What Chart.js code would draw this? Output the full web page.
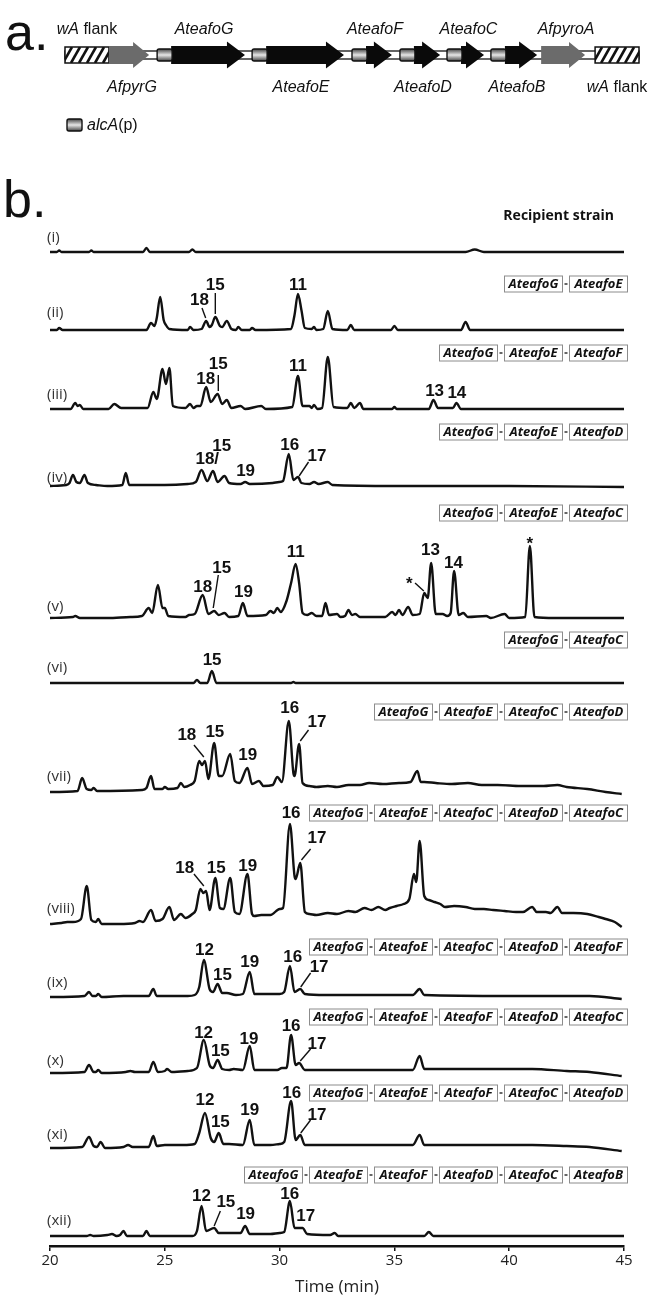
<!DOCTYPE html>
<html>
<head>
<meta charset="utf-8">
<script src="https://cdn.jsdelivr.net/npm/chart.js@4.4.0/dist/chart.umd.min.js"></script>
<style>
  body { margin: 0; background: #fff; }
  canvas { position: absolute; left: 0; }
  #geneMap { top: 0; }
  #traces { top: 150px; }
</style>
</head>
<body>
<canvas id="geneMap" width="654" height="150"></canvas>
<canvas id="traces" width="654" height="1148"></canvas>
<script>
// ---- a. cluster map (positions in kb) ----
const geneNames = ['AfpyrG', 'AteafoG', 'AteafoE', 'AteafoF', 'AteafoD', 'AteafoC', 'AteafoB', 'AfpyroA'];
const geneStart = [1.53, 3.21, 6.52, 10.0, 11.67, 13.31, 14.84, 16.59];
const geneEnd = [2.93, 6.27, 9.72, 11.39, 13.07, 14.6, 16.45, 18.12];
const geneHasPromoter = [false, true, true, true, true, true, true, false];
const geneLabelSide = ['bottom', 'top', 'bottom', 'top', 'bottom', 'top', 'bottom', 'top'];
const flankStart = [0, 18.47];
const flankEnd = [1.53, 20.0];
const flankLabelSide = ['top', 'bottom'];

// ---- b. chromatograms: [time (min), signal] ----
const timeTicks = [20, 25, 30, 35, 40, 45];
const laneNames = ['(i)', '(ii)', '(iii)', '(iv)', '(v)', '(vi)', '(vii)', '(viii)', '(ix)', '(x)', '(xi)', '(xii)'];

const traceI = [[20,0],[20.3,0],[20.4,1.5],[20.5,0],[21.7,0],[21.8,1.5],[21.9,0],[24.05,0],[24.2,4],[24.35,0],[26.05,0],[26.2,2.5],[26.35,0],[38.1,0],[38.5,2.5],[38.9,0],[45,0]];
const traceII = [[20,0],[20.3,0],[20.4,2],[20.55,0],[24.2,0],[24.4,7],[24.55,4],[24.65,12],[24.8,33],[24.95,10],[25.05,5],[25.2,1],[26.0,0],[26.1,3],[26.25,0],[26.6,1],[26.8,9],[26.95,3],[27.05,5],[27.2,13],[27.4,4],[27.5,3],[27.7,9],[27.9,1],[28.1,0],[28.2,3],[28.35,0],[28.7,0],[28.8,2],[28.95,0],[30.5,1],[30.65,15],[30.8,36],[30.95,20],[31.1,2],[31.4,1],[31.5,3],[31.6,0],[31.9,1],[32.1,19],[32.3,1],[32.95,0],[33.1,5],[33.25,0],[34.85,0],[35.0,4],[35.15,0],[37.9,0],[38.1,8],[38.3,0],[45,0]];
const traceIII = [[20,0],[20.9,0],[21.1,6],[21.2,3],[21.3,4],[21.45,0],[22.55,0],[22.8,5],[23.1,1],[24.25,1],[24.5,17],[24.65,10],[24.9,40],[25.05,25],[25.2,41],[25.35,3],[25.9,1],[26.1,5],[26.25,1],[26.4,3],[26.55,3],[26.8,22],[27.0,7],[27.3,15],[27.5,5],[27.7,9],[27.9,1],[28.3,3],[28.5,0],[29.2,3],[29.4,0],[30.55,2],[30.8,33],[31.0,3],[31.3,3],[31.4,1],[31.5,4],[31.65,0],[31.85,1],[32.1,52],[32.35,2],[32.95,1],[33.1,6],[33.25,1],[33.5,6],[33.65,0],[34.9,0],[35.0,2],[35.1,0],[36.5,0],[36.7,9],[36.9,1],[37.55,1],[37.7,6],[37.9,0],[45,0]];
const traceIV = [[20,0],[20.7,1],[20.85,3],[21.0,11],[21.15,4],[21.3,3],[21.5,11],[21.65,3],[22.0,1],[22.5,0],[23.15,1],[23.3,13],[23.45,1],[25.0,1],[26.0,2],[26.35,4],[26.6,16],[26.85,5],[27.1,15],[27.3,4],[27.6,10],[27.8,3],[28.3,2],[28.5,4],[28.7,2],[29.7,3],[29.98,4],[30.15,5],[30.4,32],[30.6,6],[30.8,9],[30.95,3],[31.3,2],[31.5,4],[31.7,2],[32.1,4],[32.3,1],[35,0],[40,0],[45,-1]];
const traceV = [[20,0],[21.0,1],[21.1,2],[21.3,0],[22.5,0],[23.5,1],[24.0,2],[24.3,10],[24.45,5],[24.7,33],[24.9,10],[25.0,10],[25.15,2],[25.9,1],[26.05,3],[26.3,4],[26.65,23],[26.9,4],[27.15,7],[27.35,3],[27.6,5],[27.8,1],[28.2,2],[28.4,15],[28.6,2],[29.4,3],[29.6,7],[29.75,5],[29.9,10],[30.05,6],[30.3,17],[30.5,35],[30.7,54],[30.85,35],[31.0,5],[31.2,3],[31.4,5],[31.6,2],[31.85,2],[32.0,15],[32.15,3],[32.5,4],[32.65,1],[32.85,2],[33.0,8],[33.15,3],[33.3,4],[33.5,1],[34.6,1],[34.9,6],[35.05,3],[35.2,8],[35.35,3],[35.6,11],[35.8,3],[36.1,4],[36.3,25],[36.45,20],[36.6,55],[36.8,4],[37.1,4],[37.3,2],[37.45,5],[37.6,47],[37.8,3],[38.0,5],[38.2,1],[39.0,2],[39.2,0],[39.8,4],[40.0,0],[40.7,1],[40.9,72],[41.1,1],[42,0],[45,0]];
const traceVI = [[20,0],[26.25,0],[26.4,3],[26.55,0],[26.85,0],[27.05,12],[27.25,0],[30.5,0],[30.6,1],[30.7,0],[45,0]];
const traceVII = [[20,-1],[21.2,0],[21.4,13],[21.6,2],[21.8,1],[21.9,3],[22.05,0],[24.0,1],[24.2,3],[24.4,15],[24.55,2],[24.9,2],[25.0,4],[25.15,2],[25.55,3],[25.7,8],[25.85,4],[26.1,6],[26.3,10],[26.5,30],[26.62,26],[26.75,30],[26.9,12],[27.15,48],[27.35,15],[27.5,15],[27.85,37],[28.05,10],[28.25,8],[28.6,23],[28.8,7],[29.1,10],[29.3,5],[29.7,6],[29.9,14],[30.1,9],[30.4,70],[30.6,18],[30.65,15],[30.85,47],[31.0,8],[31.3,5],[31.6,4],[32.1,5],[32.5,4],[33.0,6],[33.5,6],[33.9,8],[34.5,7],[35.2,8],[35.7,9],[36.0,20],[36.15,9],[36.3,9],[36.8,8],[37.5,7],[38.2,8],[38.8,6],[39.5,6],[40.5,5],[41.5,5],[42.1,6],[42.5,4],[43.4,2],[44.2,-1],[44.9,-3]];
const traceVIII = [[20,0],[20.5,1],[20.75,2],[21.0,2],[21.35,5],[21.6,38],[21.8,4],[22.0,2],[22.1,5],[22.25,0],[23.0,0],[23.7,1],[23.9,3],[24.05,2],[24.4,14],[24.6,3],[24.9,5],[25.2,17],[25.4,4],[25.7,10],[25.9,6],[26.2,10],[26.35,14],[26.55,35],[26.68,31],[26.8,33],[26.95,14],[27.2,46],[27.4,16],[27.55,15],[27.85,46],[28.05,12],[28.25,10],[28.6,50],[28.8,10],[28.9,8],[29.2,9],[29.6,9],[30.0,15],[30.15,16],[30.45,100],[30.65,48],[30.7,45],[30.9,61],[31.1,12],[31.3,10],[31.6,9],[32.1,11],[32.5,10],[33.0,13],[33.3,12],[33.7,16],[34.0,14],[34.3,17],[34.6,14],[34.8,16],[35.1,18],[35.4,20],[35.65,25],[35.85,50],[35.95,42],[36.1,83],[36.3,28],[36.5,24],[36.75,22],[37.0,20],[37.2,17],[37.6,18],[38.1,17],[38.5,15],[38.9,15],[39.3,14],[39.8,13],[40.3,12],[40.6,12],[41.0,17],[41.2,12],[41.6,12],[41.8,11],[42.1,17],[42.3,11],[42.8,11],[43.4,10],[43.9,7],[44.2,5],[44.6,2],[44.9,-3]];
const traceIX = [[20,0],[21.5,1],[21.7,5],[21.85,1],[22.0,1],[22.1,3],[22.25,0],[23.2,1],[23.3,1],[24.3,1],[24.5,8],[24.65,1],[26.0,1],[26.3,2],[26.5,10],[26.7,37],[26.95,8],[27.1,5],[27.3,13],[27.5,4],[27.7,4],[28.1,2],[28.4,3],[28.7,25],[28.9,3],[29.2,3],[29.8,3],[30.0,3],[30.2,5],[30.45,31],[30.65,5],[30.9,8],[31.1,3],[32,2],[35.8,2],[36.1,8],[36.3,2],[40,1],[43.5,1],[44.9,-2]];
const traceX = [[20,0],[21.5,1],[21.7,8],[21.9,1],[22.0,1],[22.1,3],[22.25,0],[23.3,1],[23.5,2],[23.7,1],[24.3,1],[24.5,11],[24.7,1],[25.0,2],[25.1,4],[25.3,1],[26.0,2],[26.4,5],[26.7,33],[26.95,8],[27.1,5],[27.3,13],[27.5,4],[27.8,3],[28.0,4],[28.4,3],[28.7,27],[28.9,3],[29.6,3],[29.9,3],[30.1,5],[30.3,5],[30.5,38],[30.7,8],[30.85,10],[31.1,3],[32,3],[35.8,3],[36.1,17],[36.3,4],[37,4],[39,4],[41,4],[42.5,2],[43.5,1],[44.9,-3]];
const traceXI = [[20,0],[21.4,1],[21.7,11],[21.9,2],[22.05,1],[22.2,6],[22.4,0],[23.2,1],[23.4,3],[23.6,1],[24.3,1],[24.5,12],[24.65,2],[25.0,3],[25.8,3],[26.3,4],[26.5,15],[26.75,35],[27.0,10],[27.15,6],[27.35,15],[27.55,4],[27.8,4],[28.4,3],[28.7,28],[28.9,3],[29.6,3],[30.0,4],[30.2,6],[30.5,47],[30.7,8],[30.9,13],[31.1,3],[32,3],[35.8,3],[36.1,13],[36.3,3],[38,3],[41,3],[42.5,2],[43.5,1],[44.9,-3]];
const traceXII = [[20,0],[21.6,0],[21.75,1],[21.9,0],[22.5,1],[22.7,2],[22.9,0],[23.05,1],[23.2,5],[23.35,0],[24.05,0],[24.2,5],[24.35,0],[26.2,0],[26.4,5],[26.6,30],[26.8,5],[27.15,8],[27.35,3],[27.65,3],[28.0,3],[28.3,3],[28.5,10],[28.7,2],[29.6,2],[30.0,3],[30.2,4],[30.45,35],[30.65,8],[30.8,8],[31.0,8],[31.2,2],[32.2,1],[32.4,3],[32.55,0],[36.3,0],[36.5,4],[36.7,0],[45,0]];

// peak numbers: [text, time, height]
const peakLabels = [
  [],
  [['18', 26.51, 30], ['15', 27.2, 45], ['11', 30.8, 45]],
  [['18', 26.78, 30], ['15', 27.33, 45], ['11', 30.8, 43], ['13', 36.75, 18], ['14', 37.72, 16]],
  [['18/', 26.85, 27], ['15', 27.48, 40], ['19', 28.52, 15], ['16', 30.44, 41], ['17', 31.63, 30]],
  [['18', 26.65, 31], ['15', 27.48, 50], ['19', 28.43, 26], ['11', 30.7, 66], ['*', 35.65, 38], ['13', 36.57, 68], ['14', 37.57, 55], ['*', 40.9, 78]],
  [['15', 27.06, 23]],
  [['18', 25.96, 56], ['15', 27.18, 59], ['19', 28.61, 36], ['16', 30.44, 83], ['17', 31.63, 69]],
  [['18', 25.87, 56], ['15', 27.24, 56], ['19', 28.61, 58], ['16', 30.5, 111], ['17', 31.63, 86]],
  [['12', 26.73, 47], ['15', 27.51, 22], ['19', 28.7, 35], ['16', 30.57, 40], ['17', 31.72, 30]],
  [['12', 26.69, 40], ['15', 27.42, 22], ['19', 28.67, 34], ['16', 30.5, 47], ['17', 31.63, 29]],
  [['12', 26.75, 48], ['15', 27.42, 26], ['19', 28.7, 38], ['16', 30.53, 55], ['17', 31.63, 33]],
  [['12', 26.6, 40], ['15', 27.66, 34], ['19', 28.52, 22], ['16', 30.44, 42], ['17', 31.14, 20]]
];
// leader lines: [t1, h1, t2, h2]
const peakLeaders = [
  [],
  [[26.62, 22, 26.78, 12], [27.2, 37, 27.2, 16]],
  [[27.33, 34, 27.33, 18]],
  [[31.26, 24, 30.85, 10]],
  [[27.33, 43, 27.11, 10], [35.9, 35, 36.28, 27]],
  [],
  [[26.27, 46, 26.7, 34], [31.26, 61, 30.9, 50]],
  [[26.27, 50, 26.7, 38], [31.35, 75, 30.95, 64]],
  [[31.35, 24, 30.92, 10]],
  [[31.35, 24, 30.9, 12]],
  [[31.35, 28, 30.92, 15]],
  [[27.42, 25, 27.15, 10]]
];
const laneGenes = [
  [],
  ['AteafoG', 'AteafoE'],
  ['AteafoG', 'AteafoE', 'AteafoF'],
  ['AteafoG', 'AteafoE', 'AteafoD'],
  ['AteafoG', 'AteafoE', 'AteafoC'],
  ['AteafoG', 'AteafoC'],
  ['AteafoG', 'AteafoE', 'AteafoC', 'AteafoD'],
  ['AteafoG', 'AteafoE', 'AteafoC', 'AteafoD', 'AteafoC'],
  ['AteafoG', 'AteafoE', 'AteafoC', 'AteafoD', 'AteafoF'],
  ['AteafoG', 'AteafoE', 'AteafoF', 'AteafoD', 'AteafoC'],
  ['AteafoG', 'AteafoE', 'AteafoF', 'AteafoC', 'AteafoD'],
  ['AteafoG', 'AteafoE', 'AteafoF', 'AteafoD', 'AteafoC', 'AteafoB']
];

// layout (page px)
const laneBase = [252, 330, 409, 486, 618, 683, 791, 924, 997, 1073, 1148, 1236];
const laneLabelLift = [14, 17, 14, 8, 11, 15, 14, 15, 14, 12, 13, 15];
const boxLift = [36, 46, 56, 54, 105, 43, 79, 111, 50, 56, 55, 61];
const PLOT_TOP = 160, PLOT_BOTTOM = 1246, CANVAS_TOP = 150;

function italicPart(ctx, parts, x, y, size, align) {
  // parts: [[text, italic]]
  const fonts = parts.map(p => (p[1] ? 'italic ' : '') + size + 'px "Liberation Sans"');
  let total = 0;
  parts.forEach((p, i) => { ctx.font = fonts[i]; total += ctx.measureText(p[0]).width; });
  let cx = align === 'center' ? x - total / 2 : x;
  ctx.textAlign = 'left';
  parts.forEach((p, i) => { ctx.font = fonts[i]; ctx.fillText(p[0], cx, y); cx += ctx.measureText(p[0]).width; });
}

function promoterBox(ctx, x, y, w, h) {
  const g = ctx.createLinearGradient(0, y, 0, y + h);
  g.addColorStop(0, '#444'); g.addColorStop(0.5, '#e6e6e6'); g.addColorStop(1, '#444');
  ctx.fillStyle = g;
  ctx.beginPath(); ctx.roundRect(x, y, w, h, 2); ctx.fill();
  ctx.strokeStyle = '#111'; ctx.lineWidth = 1.4; ctx.stroke();
}

function arrow(ctx, x1, x2, yc, bodyH, headH, headL, color) {
  ctx.fillStyle = color;
  ctx.beginPath();
  ctx.moveTo(x1, yc - bodyH / 2);
  ctx.lineTo(x2 - headL, yc - bodyH / 2);
  ctx.lineTo(x2 - headL, yc - headH / 2);
  ctx.lineTo(x2, yc);
  ctx.lineTo(x2 - headL, yc + headH / 2);
  ctx.lineTo(x2 - headL, yc + bodyH / 2);
  ctx.lineTo(x1, yc + bodyH / 2);
  ctx.closePath();
  ctx.fill();
}

const mapPlugin = {
  id: 'clusterMap',
  afterDraw(chart) {
    const ctx = chart.ctx, xs = chart.scales.x;
    const yc = 55;
    ctx.save();
    ctx.fillStyle = '#111';
    ctx.textBaseline = 'alphabetic';
    ctx.font = '52px "Liberation Sans"';
    ctx.fillText('a.', 5, 50);

    // backbone
    const bx1 = xs.getPixelForValue(flankStart[0]), bx2 = xs.getPixelForValue(flankEnd[1]);
    ctx.fillStyle = '#fff';
    ctx.fillRect(bx1, yc - 4, bx2 - bx1, 8);
    ctx.strokeStyle = '#111'; ctx.lineWidth = 1.3;
    ctx.strokeRect(bx1, yc - 4, bx2 - bx1, 8);

    // flanks (hatched)
    flankStart.forEach((s, i) => {
      const x1 = xs.getPixelForValue(s), x2 = xs.getPixelForValue(flankEnd[i]);
      ctx.save();
      ctx.fillStyle = '#fff';
      ctx.fillRect(x1, yc - 8, x2 - x1, 16);
      ctx.beginPath(); ctx.rect(x1, yc - 8, x2 - x1, 16); ctx.clip();
      ctx.strokeStyle = '#111'; ctx.lineWidth = 2.6;
      for (let x = x1 - 10; x < x2 + 10; x += 8) {
        ctx.beginPath(); ctx.moveTo(x, yc + 8); ctx.lineTo(x + 9, yc - 8); ctx.stroke();
      }
      ctx.restore();
      ctx.strokeStyle = '#111'; ctx.lineWidth = 1.5;
      ctx.strokeRect(x1, yc - 8, x2 - x1, 16);
    });

    // genes
    geneStart.forEach((s, i) => {
      const x1 = xs.getPixelForValue(s), x2 = xs.getPixelForValue(geneEnd[i]);
      if (geneHasPromoter[i]) {
        arrow(ctx, x1 + 14, x2, yc, 18, 27, 18, '#0a0a0a');
        promoterBox(ctx, x1, yc - 6, 15, 12);
      } else {
        arrow(ctx, x1, x2, yc, 18, 26, 16, '#6b6b6b');
      }
    });

    // labels
    ctx.fillStyle = '#111';
    ctx.textBaseline = 'middle';
    geneNames.forEach((n, i) => {
      const xm = xs.getPixelForValue((geneStart[i] + geneEnd[i]) / 2) + 3;
      italicPart(ctx, [[n, true]], xm, geneLabelSide[i] === 'top' ? 30 : 88, 16, 'center');
    });
    flankStart.forEach((s, i) => {
      const xm = xs.getPixelForValue((s + flankEnd[i]) / 2);
      italicPart(ctx, [['wA', true], [' flank', false]], xm, flankLabelSide[i] === 'top' ? 30 : 88, 16, 'center');
    });

    // promoter key
    promoterBox(ctx, 67, 119, 15, 12);
    ctx.fillStyle = '#111';
    italicPart(ctx, [['alcA', true], ['(p)', false]], 87, 126, 16, 'left');
    ctx.restore();
  }
};

new Chart(document.getElementById('geneMap'), {
  type: 'scatter',
  data: { datasets: [] },
  options: {
    responsive: false,
    animation: false,
    events: [],
    layout: { padding: { left: 65, right: 15, top: 0, bottom: 0 } },
    plugins: { legend: { display: false }, tooltip: { enabled: false } },
    scales: {
      x: { type: 'linear', min: 0, max: 20, display: false },
      y: { type: 'linear', min: -1, max: 1, display: false }
    }
  },
  plugins: [mapPlugin]
});

// ---- b. ----
const traces = [traceI, traceII, traceIII, traceIV, traceV, traceVI, traceVII, traceVIII, traceIX, traceX, traceXI, traceXII];

const scales = {
  x: {
    type: 'linear', min: 20, max: 45,
    afterBuildTicks: s => { s.ticks = timeTicks.map(v => ({ value: v })); },
    afterFit: s => { s.height = 52; },
    ticks: { color: '#222', font: { family: 'Open Sans', size: 15 }, padding: 1, maxRotation: 0 },
    grid: { display: true, drawOnChartArea: false, drawTicks: true, tickLength: 5, color: '#111', lineWidth: 1.5 },
    border: { display: true, color: '#111', width: 2.6 },
    title: { display: true, text: 'Time (min)', color: '#222', font: { family: 'Open Sans', size: 17 }, padding: { top: 0, bottom: 1 } }
  }
};
laneBase.forEach((b, i) => {
  scales['y' + i] = { type: 'linear', display: false, min: b - PLOT_BOTTOM, max: b - PLOT_TOP };
});

const annotatePlugin = {
  id: 'laneNotes',
  afterDraw(chart) {
    const ctx = chart.ctx, xs = chart.scales.x, ca = chart.chartArea;
    ctx.save();
    ctx.fillStyle = '#111';
    ctx.textBaseline = 'alphabetic';
    ctx.textAlign = 'left';
    ctx.font = '52px "Liberation Sans"';
    ctx.fillText('b.', 3, 217 - CANVAS_TOP);

    laneBase.forEach((b, i) => {
      const ys = chart.scales['y' + i];
      // lane label
      ctx.fillStyle = '#333';
      ctx.font = '15px "Open Sans"';
      ctx.textAlign = 'left';
      ctx.textBaseline = 'middle';
      ctx.fillText(laneNames[i], ca.left - 3, ys.getPixelForValue(laneLabelLift[i]));

      // peak numbers
      ctx.fillStyle = '#111';
      ctx.font = 'bold 17px "Liberation Sans"';
      ctx.textAlign = 'center';
      peakLabels[i].forEach(([txt, t, h]) => {
        ctx.fillText(txt, xs.getPixelForValue(t), ys.getPixelForValue(h) + (txt === '*' ? 4 : 0));
      });
      ctx.strokeStyle = '#111';
      ctx.lineWidth = 1.4;
      peakLeaders[i].forEach(([t1, h1, t2, h2]) => {
        ctx.beginPath();
        ctx.moveTo(xs.getPixelForValue(t1), ys.getPixelForValue(h1));
        ctx.lineTo(xs.getPixelForValue(t2), ys.getPixelForValue(h2));
        ctx.stroke();
      });

      // construct boxes, right aligned
      const yb = ys.getPixelForValue(boxLift[i]);
      if (i === 0) {
        ctx.font = 'bold 14px "Open Sans"';
        ctx.textAlign = 'right';
        ctx.fillStyle = '#111';
        ctx.fillText('Recipient strain', 614, yb);
        return;
      }
      const bw = 59, bh = 17, gap = 6;
      let xr = 628;
      const genes = laneGenes[i];
      for (let k = genes.length - 1; k >= 0; k--) {
        const x0 = xr - bw;
        ctx.fillStyle = '#fff';
        ctx.fillRect(x0, yb - bh / 2, bw, bh);
        ctx.strokeStyle = '#8c8c8c';
        ctx.lineWidth = 1;
        ctx.strokeRect(x0 + 0.5, yb - bh / 2 + 0.5, bw - 1, bh - 1);
        ctx.fillStyle = '#111';
        ctx.font = 'italic bold 13px "Open Sans"';
        ctx.textAlign = 'center';
        ctx.fillText(genes[k], x0 + bw / 2, yb + 0.5);
        if (k > 0) {
          ctx.strokeStyle = '#333';
          ctx.lineWidth = 1.5;
          ctx.beginPath();
          ctx.moveTo(x0 - gap + 1.5, yb);
          ctx.lineTo(x0 - 1.5, yb);
          ctx.stroke();
        }
        xr = x0 - gap;
      }
    });
    ctx.restore();
  }
};

new Chart(document.getElementById('traces'), {
  type: 'line',
  data: {
    datasets: traces.map((tr, i) => ({
      label: laneNames[i],
      data: tr.map(p => ({ x: p[0], y: p[1] })),
      yAxisID: 'y' + i,
      borderColor: '#111',
      borderWidth: 2.4,
      pointRadius: 0,
      fill: false,
      cubicInterpolationMode: 'monotone'
    }))
  },
  options: {
    responsive: false,
    animation: false,
    events: [],
    layout: { padding: { left: 50, right: 30, top: PLOT_TOP - CANVAS_TOP, bottom: 0 } },
    plugins: { legend: { display: false }, tooltip: { enabled: false } },
    scales: scales
  },
  plugins: [annotatePlugin]
});
</script>
</body>
</html>
